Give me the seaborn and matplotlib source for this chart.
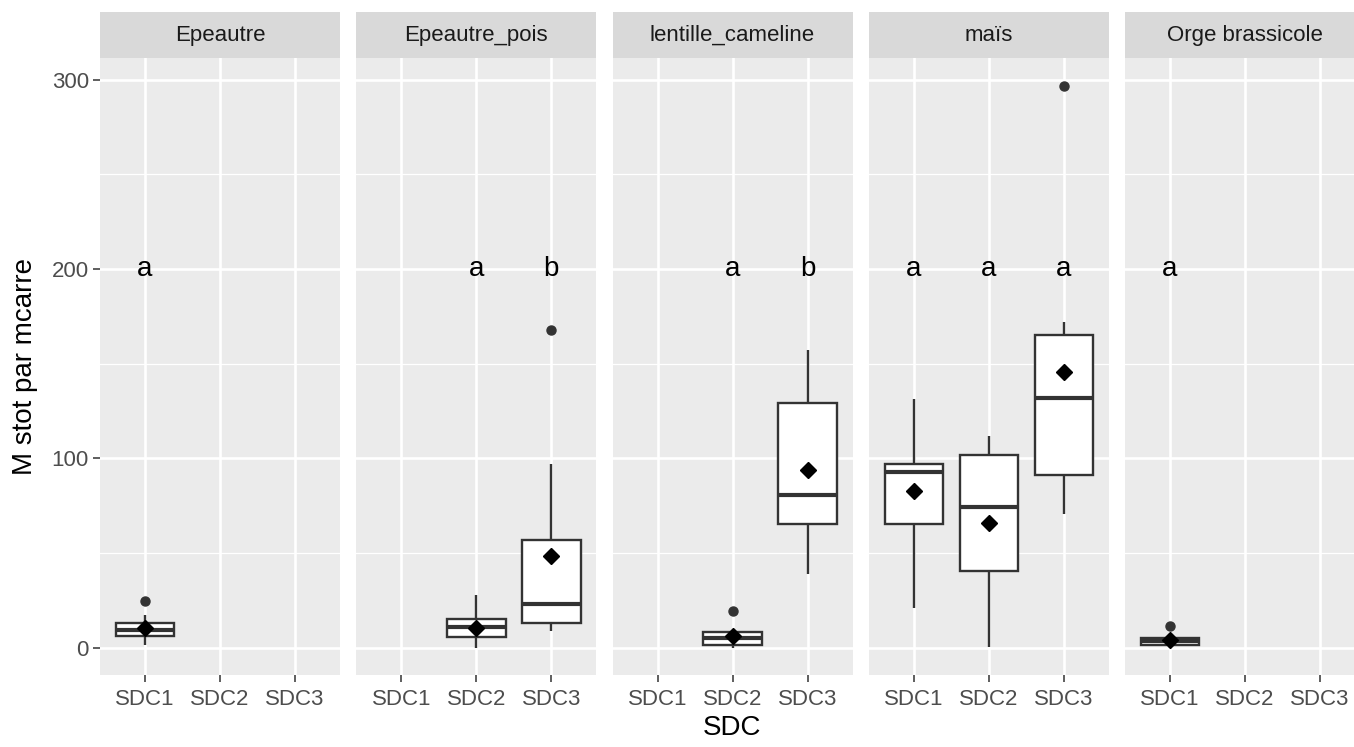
import pandas as pd
import numpy as np
import matplotlib
matplotlib.use("Agg")
import matplotlib.pyplot as plt
from matplotlib.patches import Rectangle
import seaborn as sns

plt.rcParams['font.family'] = ['Liberation Sans', 'DejaVu Sans']

cultures = ["Epeautre", "Epeautre_pois", "lentille_cameline", "maïs", "Orge brassicole"]
sdc = ["SDC1", "SDC2", "SDC3"]

epeautre_sdc1 = [1.5, 4, 6, 8, 9.5, 11, 13, 17, 24.5]
epeautre_pois_sdc2 = [0, 1, 5.5, 6, 10.7, 11, 15, 15, 28]
epeautre_pois_sdc3 = [9, 11, 13, 18, 23, 41.4, 57, 97, 168]
lentille_sdc2 = [0, 1, 1.2, 4.5, 4.8, 7.5, 8, 9, 19.5]
lentille_sdc3 = [39, 50, 65.5, 72, 80.6, 105, 129, 145.2, 157]
mais_sdc1 = [20.7, 50, 65.5, 80, 93, 95, 97, 110.7, 131.5]
mais_sdc2 = [0.5, 20, 40.3, 58, 74.3, 83, 102, 103.9, 112]
mais_sdc3 = [70.5, 90, 91, 130, 132, 165, 165, 172, 296.7]
orge_sdc1 = [0, 0.5, 1.6, 2, 3.3, 3.5, 5.1, 6.5, 11.6]

groups = [
    ("Epeautre", "SDC1", epeautre_sdc1),
    ("Epeautre_pois", "SDC2", epeautre_pois_sdc2),
    ("Epeautre_pois", "SDC3", epeautre_pois_sdc3),
    ("lentille_cameline", "SDC2", lentille_sdc2),
    ("lentille_cameline", "SDC3", lentille_sdc3),
    ("maïs", "SDC1", mais_sdc1),
    ("maïs", "SDC2", mais_sdc2),
    ("maïs", "SDC3", mais_sdc3),
    ("Orge brassicole", "SDC1", orge_sdc1),
]

# group letters
letter_culture = ["Epeautre", "Epeautre_pois", "Epeautre_pois", "lentille_cameline",
                  "lentille_cameline", "maïs", "maïs", "maïs", "Orge brassicole"]
letter_sdc = ["SDC1", "SDC2", "SDC3", "SDC2", "SDC3", "SDC1", "SDC2", "SDC3", "SDC1"]
letter_text = ["a", "a", "b", "a", "b", "a", "a", "a", "a"]
letter_y = 200

rows = []
for cult, s, vals in groups:
    for v in vals:
        rows.append({"culture": cult, "SDC": s, "M": v})
df = pd.DataFrame(rows)

W, H = 1354, 747
fig = plt.figure(figsize=(W / 100, H / 100), dpi=100)

panel_w = 240
gap = 16.25
left0 = 100
top_px, bot_px = 58, 675
strip_h = 46

axes = []
for i, cult in enumerate(cultures):
    lx = left0 + i * (panel_w + gap)
    ax = fig.add_axes([lx / W, 1 - bot_px / H, panel_w / W, (bot_px - top_px) / H],
                      sharey=axes[0] if axes else None)
    axes.append(ax)
    sub = df[df["culture"] == cult]
    sns.boxplot(data=sub, x="SDC", y="M", order=sdc, ax=ax, width=0.78,
                color="white", saturation=1, linecolor="#333333", linewidth=1.7,
                showcaps=False, fliersize=6.5, showmeans=True,
                meanprops=dict(marker="D", markerfacecolor="black",
                               markeredgecolor="black", markersize=8.5),
                medianprops=dict(linewidth=3),
                flierprops=dict(marker="o", markerfacecolor="#333333",
                                markeredgecolor="#333333", markersize=6.5))
    for c, s, t in zip(letter_culture, letter_sdc, letter_text):
        if c == cult:
            ax.text(sdc.index(s), letter_y, t, ha="center", va="center",
                    fontsize=20, color="black")

    ax.set_facecolor("#EBEBEB")
    for sp in ax.spines.values():
        sp.set_visible(False)
    ax.set_xlim(-0.6, 2.6)
    ax.set_ylim(-14.5, 311.5)
    ax.set_yticks([0, 100, 200, 300])
    ax.set_yticks([50, 150, 250], minor=True)
    ax.set_axisbelow(True)
    ax.grid(True, which="major", color="white", linewidth=1.9)
    ax.grid(True, which="minor", axis="y", color="white", linewidth=0.9)
    ax.tick_params(which="minor", length=0)
    ax.tick_params(which="major", length=5, width=1.1, color="#333333",
                   labelsize=16, labelcolor="#4D4D4D", pad=5)
    ax.tick_params(axis="y", pad=3)
    if i > 0:
        ax.tick_params(axis="y", left=False, labelleft=False)
    ax.set_xlabel("")
    ax.set_ylabel("")

    ax.add_patch(Rectangle((0, 1), 1, strip_h / (bot_px - top_px), transform=ax.transAxes,
                           facecolor="#D9D9D9", edgecolor="none", clip_on=False))
    ax.text(0.5, 1 + strip_h / 2 / (bot_px - top_px), cult, transform=ax.transAxes,
            ha="center", va="center", fontsize=16, color="#1A1A1A")

fig.text(25 / W, 1 - ((top_px + bot_px) / 2) / H, "M stot par mcarre", rotation=90,
         ha="center", va="center", fontsize=20, color="black")
fig.text(732 / W, 1 - 728 / H, "SDC", ha="center", va="center", fontsize=20, color="black")

fig.savefig("out.png", dpi=100)
